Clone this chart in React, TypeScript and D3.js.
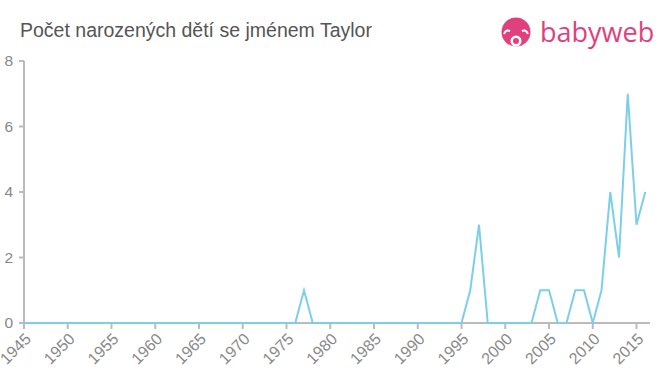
import React from "react";
import * as d3 from "d3";

const years: number[] = d3.range(1945, 2017);
const nonZero: [number, number][] = [
  [1977, 1],
  [1996, 1],
  [1997, 3],
  [2004, 1],
  [2005, 1],
  [2008, 1],
  [2009, 1],
  [2011, 1],
  [2012, 4],
  [2013, 2],
  [2014, 7],
  [2015, 3],
  [2016, 4],
];
const valueMap = new Map(nonZero);
const values: number[] = years.map((y) => valueMap.get(y) ?? 0);
const xTicks: number[] = d3.range(1945, 2016, 5);
const yTicks: number[] = [0, 2, 4, 6, 8];
const title = "Počet narozených dětí se jménem Taylor";

export default function App() {
  const W = 660;
  const H = 375;
  const x = d3.scaleLinear().domain([1945, 2015]).range([24, 636.5]);
  const y = d3.scaleLinear().domain([0, 8]).range([323, 61]);
  const line = d3
    .line<number>()
    .x((_, i) => x(years[i]))
    .y((d) => y(d));
  const font = "'Liberation Sans', Arial, Helvetica, sans-serif";
  return (
    <svg
      width={W}
      height={H}
      style={{ position: "absolute", left: 0, top: 0, fontFamily: font }}
    >
      <rect width={W} height={H} fill="#fff" />
      <text x={20} y={37} fontSize={19.5} fill="#555">
        {title}
      </text>
      {/* logo */}
      <g>
        <circle cx={516} cy={32} r={14.5} fill="#e0407e" />
        <circle cx={516} cy={41} r={5.5} fill="#fff" />
        <circle cx={516} cy={41} r={3} fill="#e0407e" />
        <path d="M504 34 q2 -5 6 -3" stroke="#fff" strokeWidth={2} fill="none" />
        <path d="M528 34 q-2 -5 -6 -3" stroke="#fff" strokeWidth={2} fill="none" />
        <text x={540} y={42} fontSize={27} fill="#e0407e" fontFamily="'Open Sans', 'Noto Sans', sans-serif">
          babyweb
        </text>
      </g>
      {/* y axis */}
      <line x1={24} x2={24} y1={61} y2={324} stroke="#bbb" strokeWidth={2} />
      {yTicks.map((t) => (
        <g key={t}>
          <line x1={19} x2={24} y1={y(t)} y2={y(t)} stroke="#bbb" strokeWidth={2} />
          <text x={13} y={y(t)} dy="0.35em" textAnchor="end" fontSize={15.5} fill="#888">
            {t}
          </text>
        </g>
      ))}
      {/* x axis */}
      <line x1={23} x2={650} y1={y(0)} y2={y(0)} stroke="#bbb" strokeWidth={2} />
      {xTicks.map((t) => (
        <g key={t}>
          <line x1={x(t)} x2={x(t)} y1={y(0)} y2={y(0) + 6} stroke="#bbb" strokeWidth={2} />
          <text
            transform={`translate(${x(t) + 4},${y(0) + 13}) rotate(-45)`}
            textAnchor="end"
            dy="0.35em"
            fontSize={16}
            fill="#888"
          >
            {t}
          </text>
        </g>
      ))}
      <path d={line(values) ?? ""} fill="none" stroke="#7ccfe9" strokeWidth={2} strokeLinejoin="miter" />
    </svg>
  );
}
